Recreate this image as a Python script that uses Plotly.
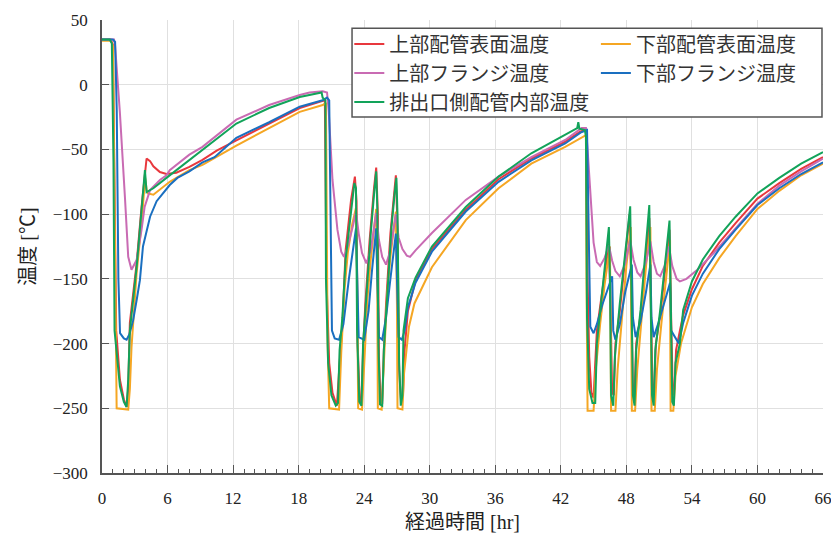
import plotly.graph_objects as go

# ---------------- data ----------------
NAMES = ["上部配管表面温度", "下部配管表面温度", "上部フランジ温度", "下部フランジ温度", "排出口側配管内部温度"]
COLORS = ["#e8383d", "#f5a623", "#c96bb3", "#1a6fc0", "#12a35a"]
X_TICKS = [0, 6, 12, 18, 24, 30, 36, 42, 48, 54, 60, 66]
Y_TICKS = [-300, -250, -200, -150, -100, -50, 0, 50]

RED_T = [0, 0.8, 1.0, 1.15, 1.3, 1.64, 2.0, 2.25, 2.4, 2.55, 2.85, 3.17, 3.62, 3.9, 4.08, 4.4, 4.7, 5.3, 5.9, 6.8,
         8.0, 9.2, 10.5, 12.3, 15.3, 18.1, 20.0, 20.4, 20.55, 20.8, 21.1, 21.5, 21.75, 22.0, 22.3, 22.8, 23.15, 23.3,
         23.4, 23.6, 23.75, 23.9, 24.1, 24.5, 24.9, 25.1, 25.25, 25.35, 25.5, 25.65, 25.8, 26.0, 26.4, 26.75, 26.9,
         27.05, 27.2, 27.4, 27.55, 27.7, 28.0, 28.7, 30.2, 33.3, 36.3, 39.3, 42.4, 43.8, 44.3, 44.45, 44.6, 44.8,
         45.0, 45.15, 45.3, 45.7, 46.1, 46.4, 46.55, 46.7, 46.85, 47.0, 47.4, 47.9, 48.3, 48.45, 48.6, 48.75, 48.9,
         49.3, 49.8, 50.1, 50.25, 50.4, 50.55, 50.7, 51.1, 51.6, 51.95, 52.1, 52.25, 52.4, 52.55, 52.9, 53.2, 54,
         55, 56.5, 58, 60, 62, 64, 66]
RED_V = [35, 35, 31, -100, -190, -228, -243, -249, -235, -184, -160, -138, -94.5, -73, -57, -59, -63, -67.5, -69, -68,
         -63.5, -58, -51, -43, -30, -18, -13, -12, -150, -215, -238, -248, -215, -187, -128, -89, -71, -90,
         -200, -245, -246, -205, -170, -120, -80, -64, -100, -210, -246, -246, -205, -170, -115, -82, -70,
         -110, -220, -247, -240, -205, -175, -151, -127, -96.5, -73, -57, -44, -36, -35, -150, -210, -238,
         -242, -215, -190, -165, -140, -123, -170, -238, -240, -200, -175, -130, -100, -160, -238, -238, -200,
         -178, -135, -103, -170, -238, -236, -200, -178, -140, -112, -180, -240, -235, -205, -190, -178, -158,
         -140, -122, -107, -88, -76, -65, -56]

ORANGE_T = [0, 0.8, 1.0, 1.2, 1.34, 2.4, 2.55, 2.7, 3.17, 3.62, 3.85, 3.95, 4.1, 4.2, 4.7, 5.3, 5.9, 6.2, 8.0, 9.2,
            12.3, 15.3, 18.1, 20.2, 20.5, 20.65, 20.8, 21.7, 21.9, 22.2, 22.5, 22.9, 23.25, 23.35, 23.45, 23.8,
            24.0, 24.3, 24.6, 24.9, 25.1, 25.2, 25.25, 25.6, 25.8, 26.1, 26.4, 26.7, 26.9, 27.0, 27.05, 27.5, 27.65,
            28.1, 28.6, 30.2, 33.3, 36.3, 39.3, 42.4, 43.8, 44.3, 44.35, 44.45, 45.0, 45.2, 45.6, 46.0, 46.5, 46.55,
            46.6, 47.0, 47.2, 47.6, 48.0, 48.4, 48.45, 48.5, 48.8, 49.0, 49.4, 49.8, 50.2, 50.25, 50.3, 50.6, 50.8,
            51.2, 51.6, 52.0, 52.02, 52.05, 52.3, 52.5, 53.0, 54, 55, 56.5, 58, 60, 62, 64, 66]
ORANGE_V = [34, 34, 30, -150, -250, -251, -235, -203, -145.5, -107, -85, -72, -82, -84, -85, -81, -77.5, -75, -66, -62,
            -47, -33.5, -21, -15.7, -14, -200, -250, -251, -207, -158.6, -130, -108, -95, -150, -250, -251,
            -215, -165, -135, -110, -96, -160, -250, -251, -212, -162, -133, -112, -98, -170, -250, -251, -223,
            -187, -169, -141, -104.6, -80, -61, -48, -41, -39, -150, -252, -252, -220, -185, -155, -125, -200,
            -252, -252, -220, -180, -140, -110, -200, -252, -252, -220, -180, -140, -110, -200, -252, -252, -220,
            -185, -150, -120, -200, -252, -252, -225, -200, -172, -154, -134, -117, -96, -82, -70, -61]

MAGENTA_T = [0, 1.1, 1.2, 1.64, 2.1, 2.4, 2.7, 3.17, 3.62, 3.9, 4.4, 5.3, 5.9, 6.2, 8.0, 9.2, 12.3, 15.3, 18.1, 19.0,
             20.2, 20.6, 20.75, 21.1, 21.55, 21.9, 22.15, 22.5, 23.0, 23.25, 23.5, 23.8, 24.2, 24.6, 25.1, 25.35,
             25.65, 26.0, 26.4, 26.9, 27.15, 27.5, 27.9, 28.2, 28.7, 30.2, 33.3, 36.3, 39.3, 42.4, 43.9, 44.3, 44.45,
             44.7, 45.0, 45.3, 45.6, 46.0, 46.4, 46.7, 47.0, 47.4, 47.9, 48.35, 48.65, 49.0, 49.3, 49.8, 50.2, 50.5,
             50.8, 51.1, 51.5, 51.9, 52.2, 52.6, 52.9, 53.5, 54.5, 56, 57.5, 60, 62, 64, 66]
MAGENTA_V = [35, 35, 30, -22, -87, -133, -143, -135.5, -112, -94.5, -81.4, -73.6, -70, -66, -54, -48, -27, -15.7, -8, -6,
             -5, -6, -20, -73.6, -112, -129, -133, -125, -108, -98, -115, -130, -138, -128, -99, -120,
             -133, -139, -128, -100, -118, -127, -132, -133, -128, -114.6, -89, -71, -56, -42.7, -33.5, -33.5, -50,
             -84, -122, -137, -140, -134, -124, -136, -144, -148, -138, -120, -135, -145, -148, -137, -121, -137,
             -146, -148, -140, -125, -140, -150, -152, -150, -143, -130, -116, -92, -78, -67, -57]

BLUE_T = [0, 1.0, 1.2, 1.35, 1.5, 1.65, 2.0, 2.25, 2.5, 2.85, 3.2, 3.47, 3.75, 4.4, 5.0, 5.9, 6.2, 6.9, 8.0, 9.2, 10.3,
          12.3, 15.3, 18.1, 20.2, 20.6, 20.8, 20.95, 21.05, 21.3, 21.7, 22.1, 22.6, 23.25, 23.35, 23.5, 24.0, 24.4,
          24.7, 25.1, 25.2, 25.35, 25.65, 26.0, 26.4, 26.9, 27.0, 27.15, 27.45, 27.7, 28.0, 28.7, 30.2, 33.3, 36.3,
          39.3, 42.4, 43.8, 44.4, 44.55, 44.7, 45.0, 45.3, 45.8, 46.3, 46.7, 46.8, 47.0, 47.4, 47.9, 48.5, 48.6,
          48.85, 49.3, 49.8, 50.2, 50.3, 50.5, 50.9, 51.5, 52.0, 52.1, 52.8, 53.2, 54, 55, 56.5, 58, 60, 62, 64, 66]
BLUE_V = [35, 35, 33, -20, -150, -192, -196, -197, -193, -182, -165, -151, -125, -102, -90, -80, -77.5, -72, -67, -60, -56,
          -41, -29, -17, -12, -10, -12, -120, -190, -196, -197, -185, -150, -111, -150, -195, -197, -175,
          -145, -111, -150, -195, -197, -180, -150, -115, -150, -195, -197, -190, -172, -153, -129, -98, -75,
          -58.5, -45.4, -37, -35, -120, -187, -192, -185, -170, -158, -148, -190, -197, -185, -160, -139, -180,
          -195, -183, -160, -139, -180, -195, -185, -168, -153, -190, -200, -184, -163, -146, -127, -112, -93, -80, -69, -60]

GREEN_T = [0, 0.7, 0.9, 1.05, 1.15, 1.4, 1.64, 2.0, 2.25, 2.4, 2.55, 3.17, 3.62, 3.93, 4.08, 4.7, 5.9, 6.2, 8.0, 9.2,
           12.3, 15.3, 18.1, 20.1, 20.2, 20.45, 20.5, 20.7, 21.0, 21.4, 21.6, 21.75, 22.0, 22.3, 22.8, 23.1, 23.25,
           23.35, 23.55, 23.75, 23.9, 24.2, 24.6, 24.9, 25.1, 25.2, 25.3, 25.45, 25.65, 25.8, 26.1, 26.5, 26.8,
           26.95, 27.05, 27.2, 27.35, 27.5, 27.6, 28.0, 28.7, 30.2, 33.3, 36.3, 39.3, 42.4, 43.5, 43.6, 43.7, 44.2,
           44.3, 44.4, 44.6, 44.9, 45.15, 45.3, 45.6, 46.07, 46.4, 46.5, 46.6, 46.8, 46.95, 47.4, 48.0, 48.35, 48.45,
           48.6, 48.75, 48.9, 49.3, 49.8, 50.1, 50.2, 50.35, 50.5, 50.65, 51.1, 51.7, 51.95, 52.05, 52.2, 52.35,
           52.5, 52.9, 53.2, 54, 55, 56.5, 58, 60, 62, 64, 66]
GREEN_V = [35, 35, 32, -60, -190, -215, -233, -245, -249, -228, -190, -141, -99, -66, -83, -80, -72, -70, -58, -50.5,
           -30, -18, -9.5, -6, -10, -12, -150, -215, -240, -248, -246, -205, -180, -135, -95, -76, -80,
           -190, -245, -248, -200, -160, -115, -85, -67, -95, -200, -247, -248, -205, -160, -110, -83,
           -72, -100, -215, -248, -240, -190, -165, -149, -125, -94.5, -71, -53, -39, -33.5, -29, -34, -35,
           -40, -180, -235, -246, -246, -200, -174, -135, -110, -150, -240, -248, -210, -169, -118, -94, -150,
           -240, -248, -205, -174, -122, -93, -150, -240, -248, -205, -174, -128, -105, -160, -245, -248,
           -215, -200, -174, -152, -135, -117, -102, -84, -72, -61, -52]

SERIES = [(RED_T, RED_V), (ORANGE_T, ORANGE_V), (MAGENTA_T, MAGENTA_V), (BLUE_T, BLUE_V), (GREEN_T, GREEN_V)]
LEGEND_OF = ["legend", "legend2", "legend", "legend2", "legend"]

FONT = "Liberation Serif, 'Noto Sans CJK JP', serif"

fig = go.Figure()
for (t, v), name, color, lg in zip(SERIES, NAMES, COLORS, LEGEND_OF):
    fig.add_trace(go.Scatter(x=t, y=v, mode="lines", name=name,
                             line=dict(color=color, width=2), legend=lg))

legend_common = dict(xanchor="left", yanchor="top", bgcolor="rgba(0,0,0,0)", borderwidth=0,
                     font=dict(family=FONT, size=20, color="#333333"), tracegroupgap=0,
                     itemwidth=30, traceorder="normal")

fig.update_layout(
    width=831, height=540,
    margin=dict(l=102, r=8, t=20, b=67, autoexpand=False),
    paper_bgcolor="white", plot_bgcolor="white",
    font=dict(family=FONT, size=17, color="#222222"),
    showlegend=True,
    legend=dict(x=0.343, y=0.99, **legend_common),
    legend2=dict(x=0.685, y=0.99, **legend_common),
    shapes=[dict(type="rect", xref="paper", yref="paper", x0=0.3468, x1=0.9986, y0=0.786, y1=0.982,
                 line=dict(color="#555555", width=1.5), fillcolor="white", layer="above")],
)

fig.update_xaxes(
    range=[0, 66], tickvals=X_TICKS, ticktext=[str(v) for v in X_TICKS],
    showgrid=True, gridcolor="#e0e0e0", gridwidth=1, zeroline=False,
    showline=True, linecolor="#555555", linewidth=1.5,
    ticks="inside", ticklen=8, tickwidth=1, tickcolor="#555555",
    minor=dict(dtick=1, ticks="inside", ticklen=4, tickcolor="#555555", showgrid=False),
    ticklabelstandoff=9, ticklabeloverflow="allow",
    title=dict(text="経過時間 [hr]", font=dict(family=FONT, size=20, color="#222222"), standoff=8),
)
fig.update_yaxes(
    range=[-300, 50], tickvals=Y_TICKS,
    showgrid=True, gridcolor="#e0e0e0", gridwidth=1, zeroline=False,
    showline=True, linecolor="#555555", linewidth=1.5,
    ticks="inside", ticklen=7, tickwidth=1, tickcolor="#555555",
    ticklabelstandoff=9,
    title=dict(text="温度 [℃]", font=dict(family=FONT, size=20, color="#222222"), standoff=12),
)

fig.write_html("out.html")
